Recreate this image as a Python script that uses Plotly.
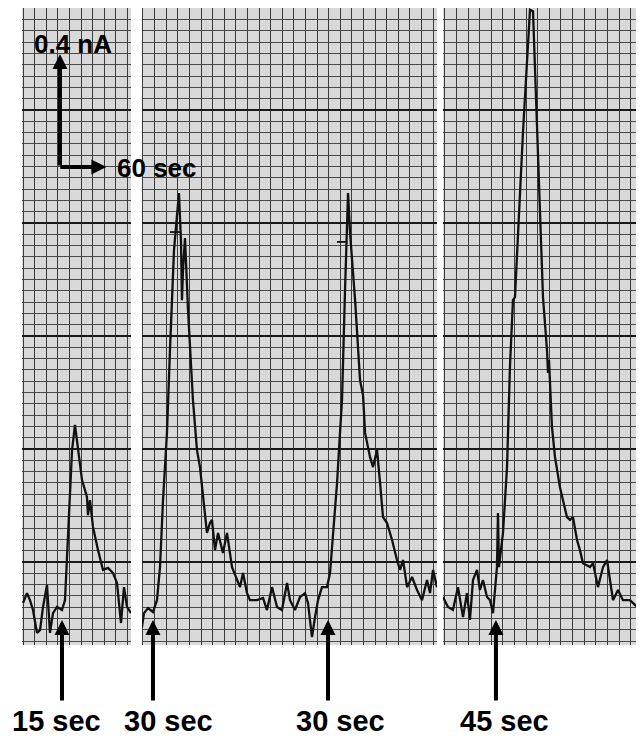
import plotly.graph_objects as go

# ---- data (time in s, current in nA relative to the chart's major grid line) ----
p1_t = [1.3, 6.5, 10.3, 14.2, 19.4, 23.3, 27.2, 32.3, 36.2, 40.1, 45.3, 51.7, 55.6, 59.5,
        64.7, 68.5, 72.4, 77.6, 84.0, 85.3, 87.9, 91.8, 98.3, 104.7, 111.2, 117.7, 122.8,
        128.0, 131.9, 135.8, 140.9]
p1_i = [-0.145, -0.110, -0.135, -0.170, -0.251, -0.241, -0.159, -0.081, -0.251, -0.181,
        -0.159, -0.170, -0.135, 0.103, 0.396, 0.485, 0.396, 0.290, 0.230, 0.166, 0.219,
        0.124, 0.042, -0.028, -0.021, -0.039, -0.074, -0.216, -0.089, -0.159, -0.181]

p2_t = [0.0, 2.6, 7.8, 14.2, 19.4, 23.3, 27.2, 32.3, 36.2, 41.4, 47.8, 50.4, 51.7, 53.0,
        55.6, 59.5, 65.9, 71.1, 75.0, 81.4, 84.0, 87.9, 90.5, 94.4, 98.3, 104.7, 109.9,
        116.4, 122.8, 126.7, 130.6, 135.8, 139.6, 148.7, 156.5, 161.6, 168.1, 174.6, 181.0,
        187.5, 191.4, 197.8, 204.3, 210.8, 214.6, 219.8, 223.7, 227.6, 232.7, 239.2, 243.1,
        247.0, 252.2, 256.0, 258.6, 262.5, 266.4, 269.0, 275.5, 281.9, 285.8, 288.4, 294.8,
        298.7, 303.9, 307.8, 311.6, 316.8, 323.3, 329.7, 333.6, 337.5, 342.7, 349.1, 355.6,
        362.0, 368.5, 372.4, 376.3, 381.4]
p2_i = [-0.230, -0.181, -0.163, -0.177, -0.135, -0.018, 0.219, 0.457, 0.750, 1.104, 1.306,
        1.140, 0.927, 1.034, 1.147, 0.892, 0.573, 0.396, 0.336, 0.184, 0.103, 0.138, 0.149,
        0.042, 0.103, 0.032, 0.103, -0.018, -0.064, -0.089, -0.039, -0.110, -0.135, -0.135,
        -0.127, -0.170, -0.089, -0.159, -0.170, -0.074, -0.135, -0.170, -0.124, -0.110,
        -0.145, -0.266, -0.195, -0.135, -0.089, -0.089, -0.039, 0.103, 0.280, 0.457, 0.573,
        0.963, 1.306, 1.165, 0.927, 0.644, 0.590, 0.457, 0.372, 0.336, 0.396, 0.280, 0.159,
        0.138, 0.078, 0.007, -0.028, 0.007, -0.089, -0.053, -0.099, -0.135, -0.064, -0.110,
        -0.028, -0.089]

p3_t = [0.0, 6.5, 12.9, 19.4, 25.9, 31.0, 34.9, 38.8, 44.0, 47.8, 51.7, 56.9, 60.8, 64.7,
        69.8, 71.1, 72.4, 77.6, 82.8, 86.6, 90.5, 93.1, 103.4, 112.5, 116.4, 121.5, 129.3,
        134.5, 135.8, 137.1, 140.9, 144.8, 151.2, 160.3, 164.2, 168.1, 173.3, 177.1, 181.0,
        190.1, 194.0, 200.4, 206.9, 212.1, 219.8, 226.3, 232.7, 241.8, 250.9, 257.4, 259.9]
p3_i = [-0.124, -0.159, -0.170, -0.089, -0.195, -0.110, -0.205, -0.064, -0.028, -0.099,
        -0.064, -0.124, -0.135, -0.181, -0.018, 0.173, -0.018, 0.103, 0.336, 0.690, 0.927,
        0.938, 1.519, 1.955, 1.950, 1.519, 0.938, 0.750, 0.669, 0.715, 0.478, 0.372, 0.265,
        0.159, 0.149, 0.159, 0.078, 0.042, -0.004, -0.018, -0.004, -0.089, -0.018, 0.007,
        -0.135, -0.099, -0.135, -0.135, -0.159, -0.181, -0.135]

# pen marks near the tops of the two middle peaks
mark_t = [[36.2, 49.1], [252.1, 265.1]]
mark_i = [[1.168, 1.168], [1.133, 1.133]]

# injection arrows: (panel, time, label, label time)
inj_panel = [1, 2, 2, 3]
inj_time = [51.7, 14.2, 240.5, 68.5]
inj_label = ["15 sec", "30 sec", "30 sec", "45 sec"]
inj_label_t = [44.0, 34.9, 256.0, 80.2]

# scale bar
scale_t0, scale_i0 = 49.1, 1.398
scale_dt, scale_di = 60, 0.4

# panel extents (s) and grid phase
panel_len = [140.9, 381.4, 259.9]
grid_phase = [1.3, 1.3, 2.6]
panel_dom = [[0.0, 0.1752], [0.1929, 0.6672], [0.6768, 1.0]]
y_range = [-0.2938, 1.9611]

fig = go.Figure()
series = [(p1_t, p1_i), (p2_t, p2_i), (p3_t, p3_i)]
for k, (t, i) in enumerate(series):
    sfx = "" if k == 0 else str(k + 1)
    fig.add_trace(go.Scatter(x=t, y=i, mode="lines", xaxis="x" + sfx, yaxis="y" + sfx,
                             line=dict(color="#111111", width=2.3), showlegend=False,
                             hoverinfo="skip"))
for mt, mi in zip(mark_t, mark_i):
    fig.add_trace(go.Scatter(x=mt, y=mi, mode="lines", xaxis="x2", yaxis="y2",
                             line=dict(color="#111111", width=1.8), showlegend=False))

# the page body has an 8px margin, so the figure is 8px smaller and its margins shifted
layout = dict(width=636, height=730, paper_bgcolor="white", plot_bgcolor="#d9d9d9",
              margin=dict(l=14, r=0, t=0, b=93), showlegend=False)
for k in range(3):
    sfx = "" if k == 0 else str(k + 1)
    layout["xaxis" + sfx] = dict(domain=panel_dom[k], range=[0, panel_len[k]], anchor="y" + sfx,
                                 showgrid=True, gridcolor="#3c3c3c", gridwidth=1,
                                 tick0=grid_phase[k], dtick=15, showticklabels=False,
                                 ticks="", zeroline=False, showline=False, fixedrange=True)
    layout["yaxis" + sfx] = dict(domain=[0, 1], range=y_range, anchor="x" + sfx,
                                 showgrid=True, gridcolor="#1a1a1a", gridwidth=1.6,
                                 tick0=0, dtick=0.4,
                                 minor=dict(dtick=0.04, tick0=0, showgrid=True,
                                            gridcolor="#4a4a4a", gridwidth=1),
                                 showticklabels=False, ticks="", zeroline=False,
                                 showline=False, fixedrange=True)
fig.update_layout(**layout)

font_big = dict(family="Liberation Sans, Arial, sans-serif", size=29, color="black")
font_mid = dict(family="Liberation Sans, Arial, sans-serif", size=26, color="black")

ann = []
for p, t, lab, lt in zip(inj_panel, inj_time, inj_label, inj_label_t):
    sfx = "" if p == 1 else str(p)
    ann.append(dict(x=t, y=-0.205, xref="x" + sfx, yref="y" + sfx, ax=0, ay=82,
                    showarrow=True, arrowhead=2, arrowsize=0.75, arrowwidth=4,
                    arrowcolor="black", text=""))
    ann.append(dict(x=lt, y=-0.1455, xref="x" + sfx, yref="paper", text="<b>%s</b>" % lab,
                    showarrow=False, font=font_big, xanchor="center", yanchor="bottom",
                    borderpad=0))

# scale bar arrows
ann.append(dict(x=scale_t0, y=scale_i0 + scale_di, xref="x", yref="y", ax=scale_t0, ay=scale_i0,
                axref="x", ayref="y", showarrow=True, arrowhead=2, arrowsize=0.75,
                arrowwidth=4, arrowcolor="black", text=""))
ann.append(dict(x=scale_t0 + scale_dt, y=scale_i0, xref="x", yref="y", ax=scale_t0 - 1.5,
                ay=scale_i0, axref="x", ayref="y", showarrow=True, arrowhead=2,
                arrowsize=0.75, arrowwidth=4, arrowcolor="black", text=""))
ann.append(dict(x=66, y=1.835, xref="x", yref="y", text="<b>0.4 nA</b>", showarrow=False,
                font=font_mid, xanchor="center", yanchor="middle"))
ann.append(dict(x=0.1495, y=0.749, xref="paper", yref="paper", text="<b>60 sec</b>",
                showarrow=False, font=font_mid, xanchor="left", yanchor="middle"))
fig.update_layout(annotations=ann)

fig.write_html("out.html")
